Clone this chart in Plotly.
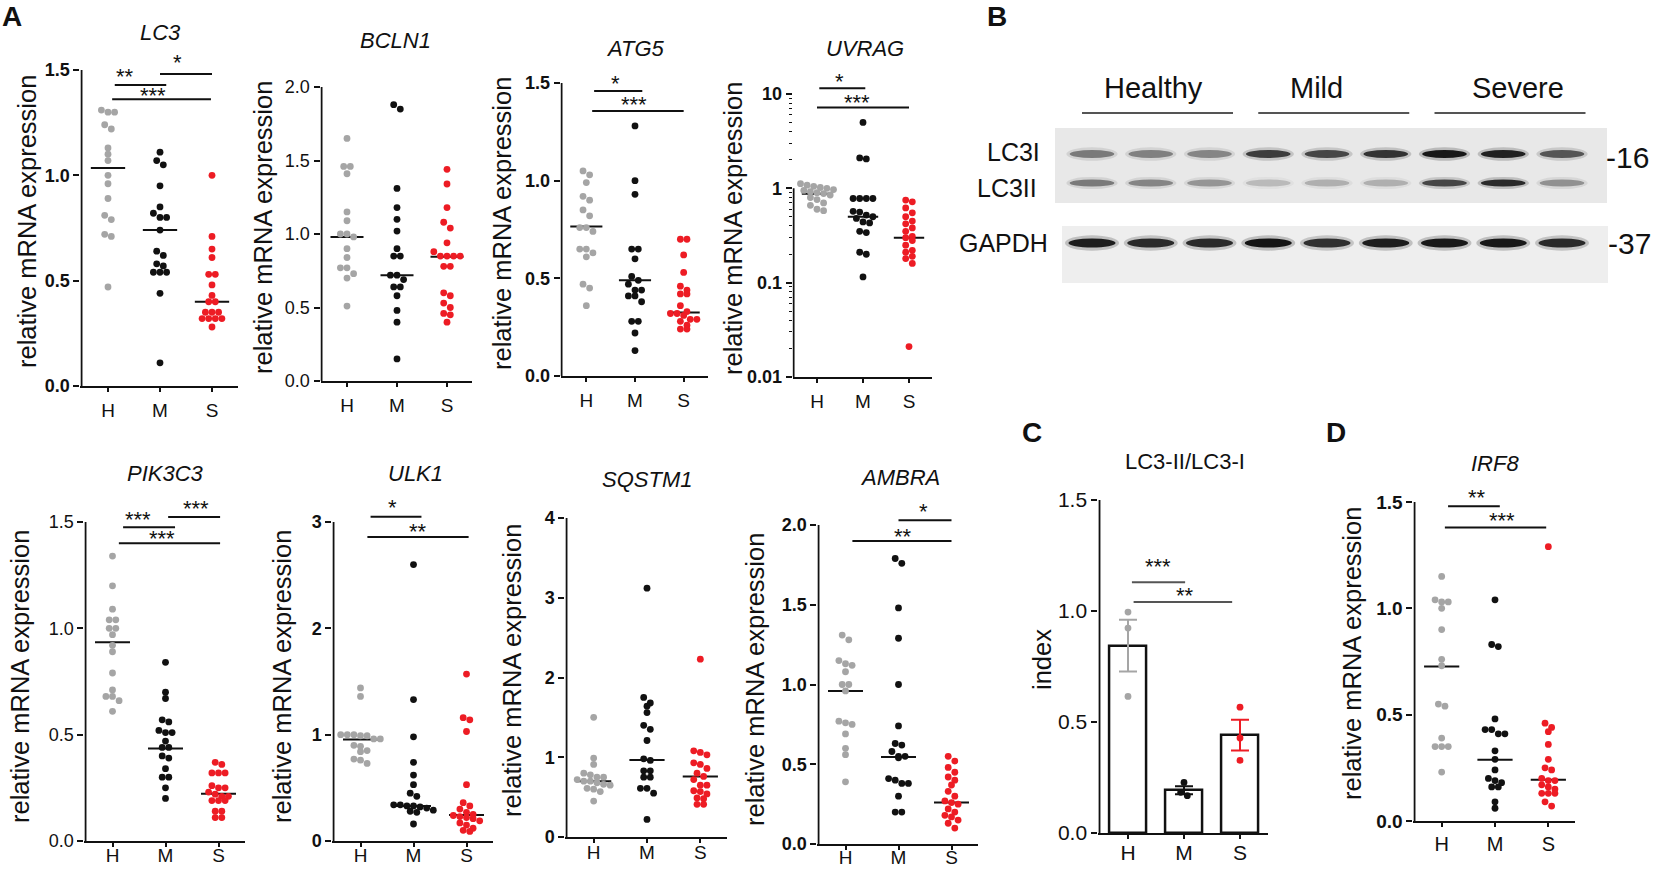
import numpy as np
import plotly.graph_objects as go

W, HT = 1663, 869
FONT = "Liberation Sans, Arial, sans-serif"
GREY, BLACK, RED = "#a5a5a5", "#111111", "#ed1c24"
GCOL = [GREY, BLACK, RED]
groups = ["H", "M", "S"]

# ---------------- data ----------------
lc3_H = [1.31, 1.30, 1.30, 1.24, 1.22, 1.13, 1.10, 1.07, 1.00, 0.96, 0.89, 0.81, 0.79, 0.72, 0.71, 0.47]
lc3_M = [1.11, 1.07, 1.05, 0.95, 0.85, 0.82, 0.80, 0.80, 0.74, 0.64, 0.62, 0.58, 0.57, 0.54, 0.54, 0.54, 0.44, 0.11]
lc3_S = [1.00, 0.71, 0.65, 0.61, 0.53, 0.53, 0.48, 0.43, 0.40, 0.40, 0.35, 0.35, 0.35, 0.32, 0.32, 0.32, 0.32, 0.28]
lc3_med = [1.035, 0.74, 0.40]

bcln_H = [1.65, 1.46, 1.46, 1.41, 1.15, 1.09, 1.00, 1.00, 0.98, 0.90, 0.84, 0.77, 0.77, 0.73, 0.70, 0.51]
bcln_M = [1.88, 1.85, 1.31, 1.18, 1.10, 1.02, 0.90, 0.85, 0.85, 0.72, 0.72, 0.69, 0.64, 0.64, 0.58, 0.48, 0.40, 0.15]
bcln_S = [1.44, 1.34, 1.18, 1.08, 1.04, 0.94, 0.88, 0.85, 0.85, 0.85, 0.85, 0.78, 0.78, 0.60, 0.58, 0.53, 0.50, 0.46, 0.45, 0.40]
bcln_med = [0.98, 0.72, 0.845]

atg_H = [1.05, 1.03, 0.99, 0.92, 0.90, 0.85, 0.82, 0.76, 0.76, 0.74, 0.65, 0.65, 0.63, 0.61, 0.47, 0.45, 0.36]
atg_M = [1.28, 1.00, 0.93, 0.65, 0.65, 0.60, 0.51, 0.49, 0.47, 0.44, 0.44, 0.41, 0.41, 0.38, 0.28, 0.28, 0.22, 0.13]
atg_S = [0.70, 0.70, 0.62, 0.53, 0.46, 0.44, 0.42, 0.42, 0.36, 0.33, 0.32, 0.32, 0.31, 0.29, 0.29, 0.28, 0.26, 0.24, 0.24]
atg_med = [0.765, 0.49, 0.325]

uvrag_H = [1.12, 1.08, 1.05, 1.02, 1.00, 0.97, 0.95, 0.92, 0.90, 0.88, 0.85, 0.80, 0.76, 0.70, 0.66, 0.60, 0.58]
uvrag_M = [5.0, 2.1, 2.05, 0.78, 0.78, 0.78, 0.78, 0.57, 0.56, 0.52, 0.50, 0.48, 0.44, 0.43, 0.35, 0.34, 0.21, 0.20, 0.115]
uvrag_S = [0.75, 0.72, 0.62, 0.55, 0.50, 0.45, 0.42, 0.38, 0.35, 0.31, 0.30, 0.28, 0.25, 0.22, 0.21, 0.19, 0.18, 0.16, 0.021]
uvrag_med = [0.875, 0.50, 0.30]

pik_H = [1.34, 1.20, 1.09, 1.04, 1.04, 1.00, 1.00, 0.97, 0.92, 0.89, 0.79, 0.71, 0.68, 0.68, 0.66, 0.61]
pik_M = [0.84, 0.70, 0.67, 0.57, 0.56, 0.52, 0.51, 0.51, 0.47, 0.44, 0.44, 0.40, 0.39, 0.34, 0.30, 0.30, 0.25, 0.20]
pik_S = [0.37, 0.36, 0.32, 0.32, 0.32, 0.26, 0.25, 0.25, 0.23, 0.22, 0.21, 0.21, 0.19, 0.19, 0.19, 0.14, 0.14, 0.11, 0.11]
pik_med = [0.935, 0.435, 0.222]

ulk_H = [1.44, 1.36, 1.00, 1.00, 1.00, 0.99, 0.99, 0.96, 0.96, 0.90, 0.89, 0.85, 0.84, 0.77, 0.76, 0.73]
ulk_M = [2.60, 1.33, 0.98, 0.74, 0.62, 0.53, 0.45, 0.42, 0.34, 0.34, 0.33, 0.33, 0.32, 0.31, 0.29, 0.28, 0.27, 0.16]
ulk_S = [1.57, 1.16, 1.14, 1.03, 0.53, 0.36, 0.33, 0.30, 0.27, 0.25, 0.24, 0.23, 0.22, 0.21, 0.19, 0.17, 0.15, 0.12, 0.10, 0.09]
ulk_med = [0.955, 0.33, 0.245]

sq_H = [1.50, 0.99, 0.91, 0.80, 0.78, 0.75, 0.75, 0.72, 0.70, 0.70, 0.68, 0.66, 0.65, 0.61, 0.60, 0.57, 0.45]
sq_M = [3.12, 1.75, 1.68, 1.64, 1.56, 1.40, 1.35, 1.21, 0.98, 0.96, 0.83, 0.83, 0.75, 0.75, 0.61, 0.61, 0.55, 0.22]
sq_S = [2.23, 1.08, 1.06, 1.03, 0.93, 0.91, 0.86, 0.80, 0.76, 0.72, 0.65, 0.65, 0.58, 0.57, 0.54, 0.49, 0.48, 0.41, 0.41]
sq_med = [0.70, 0.965, 0.76]

amb_H = [1.31, 1.28, 1.15, 1.13, 1.12, 1.08, 1.00, 1.00, 0.96, 0.77, 0.76, 0.75, 0.69, 0.60, 0.56, 0.39]
amb_M = [1.79, 1.76, 1.48, 1.29, 1.00, 0.74, 0.63, 0.62, 0.58, 0.55, 0.55, 0.54, 0.41, 0.40, 0.38, 0.38, 0.30, 0.20, 0.20]
amb_S = [0.55, 0.52, 0.48, 0.45, 0.42, 0.40, 0.37, 0.33, 0.30, 0.27, 0.26, 0.25, 0.22, 0.20, 0.18, 0.17, 0.15, 0.13, 0.10]
amb_med = [0.96, 0.545, 0.26]

irf_H = [1.15, 1.04, 1.03, 1.03, 1.00, 0.90, 0.76, 0.73, 0.55, 0.54, 0.39, 0.35, 0.35, 0.35, 0.23]
irf_M = [1.04, 0.83, 0.82, 0.48, 0.43, 0.43, 0.41, 0.41, 0.33, 0.29, 0.24, 0.20, 0.19, 0.18, 0.16, 0.16, 0.09, 0.06]
irf_S = [1.29, 0.46, 0.44, 0.42, 0.36, 0.29, 0.25, 0.24, 0.20, 0.19, 0.19, 0.17, 0.16, 0.15, 0.13, 0.13, 0.13, 0.09, 0.07]
irf_med = [0.727, 0.288, 0.194]

ratio_H = [0.995, 0.923, 0.615]
ratio_M = [0.228, 0.183, 0.168]
ratio_S = [0.567, 0.428, 0.327]

# significance brackets: (x_from, x_to, y_line, label, x_text, y_text)
lc3_sig = [(0.13, 1.12, 1.429, "**", 0.33, 1.49), (1.0, 2.0, 1.481, "*", 1.33, 1.555),
           (0.08, 1.98, 1.361, "***", 0.87, 1.40)]
atg_sig = [(0.16, 1.15, 1.459, "*", 0.60, 1.52), (0.12, 2.0, 1.357, "***", 0.97, 1.41)]
uvrag_sig = [(0.05, 1.05, 11.5, "*", 0.49, 15.0), (0.0, 2.0, 7.2, "***", 0.87, 9.0)]
pik_sig = [(0.20, 1.18, 1.475, "***", 0.48, 1.53), (1.05, 2.03, 1.523, "***", 1.58, 1.58),
           (0.12, 2.03, 1.40, "***", 0.93, 1.44)]
ulk_sig = [(0.19, 1.15, 3.05, "*", 0.60, 3.17), (0.13, 2.04, 2.86, "**", 1.09, 2.95)]
amb_sig = [(0.13, 2.0, 1.90, "**", 1.08, 1.95), (1.0, 2.0, 2.03, "*", 1.47, 2.11)]
irf_sig = [(0.12, 1.09, 1.48, "**", 0.66, 1.54), (0.06, 1.96, 1.38, "***", 1.13, 1.43)]
ratio_sig = [(0.07, 1.02, 1.13, "***", 0.54, 1.22), (0.10, 1.86, 1.04, "**", 1.02, 1.09)]

# western blot band intensities (lanes 1-9: 3 healthy, 3 mild, 3 severe)
lanes = [1, 2, 3, 4, 5, 6, 7, 8, 9]
lc3i_int = [0.45, 0.42, 0.40, 0.75, 0.70, 0.80, 0.95, 0.90, 0.62]
lc3ii_int = [0.45, 0.40, 0.33, 0.18, 0.22, 0.22, 0.70, 0.85, 0.35]
gapdh_int = [0.92, 0.85, 0.85, 0.97, 0.82, 0.92, 0.95, 0.95, 0.85]
blot_groups = ["Healthy", "Mild", "Severe"]

# ---------------- layout geometry (pixels) ----------------
dot_panels = [
    dict(title="<i>LC3</i>", data=(lc3_H, lc3_M, lc3_S), med=lc3_med, sig=lc3_sig,
         left=82, right=238, ytop_px=70, y0_px=386, ytop=1.5, ymax=1.62,
         tv=[0, 0.5, 1.0, 1.5], tt=["0.0", "0.5", "1.0", "1.5"], bold=True,
         tpos=(160, 33), ypos=(27, 222), so=2),
    dict(title="<i>BCLN1</i>", data=(bcln_H, bcln_M, bcln_S), med=bcln_med, sig=[],
         left=322, right=472, ytop_px=87, y0_px=381, ytop=2.0, ymax=2.05,
         tv=[0, 0.5, 1.0, 1.5, 2.0], tt=["0.0", "0.5", "1.0", "1.5", "2.0"], bold=False,
         tpos=(395, 40), ypos=(263, 228), so=2),
    dict(title="<i>ATG5</i>", data=(atg_H, atg_M, atg_S), med=atg_med, sig=atg_sig,
         left=562, right=708, ytop_px=83, y0_px=376, ytop=1.5, ymax=1.58,
         tv=[0, 0.5, 1.0, 1.5], tt=["0.0", "0.5", "1.0", "1.5"], bold=True,
         tpos=(635, 48), ypos=(502, 223), so=2),
    dict(title="<i>UVRAG</i>", data=(uvrag_H, uvrag_M, uvrag_S), med=uvrag_med, sig=uvrag_sig,
         left=794, right=932, ytop_px=94, y0_px=377, log=True, ymin=0.01, ytop=10, ymax=18,
         tv=[0.01, 0.1, 1, 10], tt=["0.01", "0.1", "1", "10"], bold=True,
         tpos=(865, 48), ypos=(733, 229), so=2),
    dict(title="<i>PIK3C3</i>", data=(pik_H, pik_M, pik_S), med=pik_med, sig=pik_sig,
         left=86, right=245, ytop_px=522, y0_px=841, ytop=1.5, ymax=1.64,
         tv=[0, 0.5, 1.0, 1.5], tt=["0.0", "0.5", "1.0", "1.5"], bold=False,
         tpos=(165, 473), ypos=(20, 677), so=-8),
    dict(title="<i>ULK1</i>", data=(ulk_H, ulk_M, ulk_S), med=ulk_med, sig=ulk_sig,
         left=334, right=493, ytop_px=522, y0_px=841, ytop=3.0, ymax=3.27,
         tv=[0, 1, 2, 3], tt=["0", "1", "2", "3"], bold=True,
         tpos=(415, 473), ypos=(282, 677), so=-8),
    dict(title="<i>SQSTM1</i>", data=(sq_H, sq_M, sq_S), med=sq_med, sig=[],
         left=567, right=727, ytop_px=518, y0_px=837, ytop=4.0, ymax=4.05,
         tv=[0, 1, 2, 3, 4], tt=["0", "1", "2", "3", "4"], bold=True,
         tpos=(647, 480), ypos=(512, 671), so=-7),
    dict(title="<i>AMBRA</i>", data=(amb_H, amb_M, amb_S), med=amb_med, sig=amb_sig,
         left=819, right=978, ytop_px=525, y0_px=844, ytop=2.0, ymax=2.2,
         tv=[0, 0.5, 1.0, 1.5, 2.0], tt=["0.0", "0.5", "1.0", "1.5", "2.0"], bold=True,
         tpos=(900, 477), ypos=(755, 680), so=-9),
    dict(title="<i>IRF8</i>", data=(irf_H, irf_M, irf_S), med=irf_med, sig=irf_sig,
         left=1415, right=1575, ytop_px=502, y0_px=821, ytop=1.5, ymax=1.6,
         tv=[0, 0.5, 1.0, 1.5], tt=["0.0", "0.5", "1.0", "1.5"], bold=True,
         tpos=(1495, 463), ypos=(1352, 654), tsize=19, csize=20, so=0),
]
bar_panel = dict(title="LC3-II/LC3-I", data=(ratio_H, ratio_M, ratio_S), sig=ratio_sig,
                 left=1100, right=1268, ytop_px=500, y0_px=833, ytop=1.5, ymax=1.5,
                 tv=[0, 0.5, 1.0, 1.5], tt=["0.0", "0.5", "1.0", "1.5"], bold=False,
                 tpos=(1185, 462), ypos=(1042, 660), tsize=21, csize=21, so=-4)

fig = go.Figure()
layout = dict(width=W, height=HT, margin=dict(l=0, r=0, t=0, b=0), showlegend=False,
              paper_bgcolor="white", plot_bgcolor="rgba(0,0,0,0)", template="none",
              font=dict(family=FONT, color=BLACK))
shapes, annotations = [], []


def px2paper(x, y):
    return x / W, 1 - y / HT


def swarm(pxv, step, thr):
    n = len(pxv)
    order = sorted(range(n), key=lambda i: -pxv[i])
    offs = [0.0] * n
    rows, cur = [], [order[0]]
    for i in order[1:]:
        if abs(pxv[i] - pxv[cur[0]]) < thr:
            cur.append(i)
        else:
            rows.append(cur)
            cur = [i]
    rows.append(cur)
    for r in rows:
        m = len(r)
        for k, i in enumerate(r):
            offs[i] = (k - (m - 1) / 2) * step
    return offs


def setup_axes(k, p):
    sfx = "" if k == 1 else str(k)
    ppu_x = (p["right"] - p["left"]) / 3.0
    dx = [(p["left"] - 0.03 * ppu_x) / W, p["right"] / W]
    if p.get("log"):
        lo, hi = np.log10(p["ymin"]), np.log10(p["ytop"])
        ppu_y = (p["y0_px"] - p["ytop_px"]) / (hi - lo)
        top_px = p["y0_px"] - (np.log10(p["ymax"]) - lo) * ppu_y
        yr = [lo, np.log10(p["ymax"])]
        tf = lambda v: np.log10(v) - lo
    else:
        ppu_y = (p["y0_px"] - p["ytop_px"]) / p["ytop"]
        top_px = p["y0_px"] - p["ymax"] * ppu_y
        yr = [0, p["ymax"]]
        tf = lambda v: v
    dy = [1 - p["y0_px"] / HT, 1 - top_px / HT]
    tsize = p.get("tsize", 18)
    csize = p.get("csize", 19)
    layout["xaxis" + sfx] = dict(domain=dx, range=[-0.53, 2.5], anchor="y" + sfx,
                                 showline=True, linewidth=2, linecolor=BLACK, mirror=False,
                                 ticks="outside", ticklen=4, tickwidth=2, tickcolor=BLACK,
                                 tickmode="array", tickvals=[0, 1, 2], ticktext=groups,
                                 ticklabelstandoff=p.get("so", 0),
                                 tickfont=dict(size=csize, family=FONT, color=BLACK),
                                 showgrid=False, zeroline=False, fixedrange=True)
    yax = dict(domain=dy, range=yr, anchor="x" + sfx, showline=False,
               ticks="outside", ticklen=6, tickwidth=2, tickcolor=BLACK,
               tickmode="array", tickvals=p["tv"], ticktext=p["tt"],
               tickfont=dict(size=tsize, family=FONT, color=BLACK,
                             weight="bold" if p["bold"] else "normal"),
               showgrid=False, zeroline=False, fixedrange=True)
    if p.get("log"):
        yax["type"] = "log"
        yax["minor"] = dict(ticks="outside", ticklen=3, tickwidth=1.2, tickcolor=BLACK,
                            dtick="D1", showgrid=False)
    layout["yaxis" + sfx] = yax
    # y axis line (stops at the top tick, as in the original)
    ylo = np.log10(p["ymin"]) if p.get("log") else 0
    yhi = np.log10(p["ytop"]) if p.get("log") else p["ytop"]
    shapes.append(dict(type="line", xref="x" + sfx, yref="y" + sfx, x0=-0.51, x1=-0.51,
                       y0=ylo, y1=yhi, line=dict(color=BLACK, width=2)))
    tx, ty = px2paper(*p["tpos"])
    annotations.append(dict(text=p["title"], x=tx, y=ty, xref="paper", yref="paper",
                            showarrow=False, font=dict(size=22, family=FONT, color=BLACK),
                            xanchor="center", yanchor="middle"))
    lx, ly = px2paper(*p["ypos"])
    annotations.append(dict(text="index" if p is bar_panel else "relative mRNA expression",
                            x=lx, y=ly, xref="paper", yref="paper", textangle=-90,
                            showarrow=False, font=dict(size=25.5, family=FONT, color=BLACK),
                            xanchor="center", yanchor="middle"))
    return sfx, ppu_x, ppu_y, tf


def add_sig(sfx, p, color=BLACK):
    for (a, b, yl, lab, xt, yt) in p["sig"]:
        fig.add_trace(go.Scatter(x=[a, b], y=[yl, yl], mode="lines", xaxis="x" + sfx,
                                 yaxis="y" + sfx, line=dict(color=color, width=2),
                                 hoverinfo="skip"))
        annotations.append(dict(text=lab, x=xt, y=np.log10(yt) if p.get("log") else yt,
                                xref="x" + sfx, yref="y" + sfx, showarrow=False,
                                font=dict(size=22, family=FONT, color=BLACK),
                                xanchor="center", yanchor="middle", yshift=-4))


def add_points(sfx, ppu_x, ppu_y, tf, data):
    for gi, vals in enumerate(data):
        pxv = [tf(v) * ppu_y for v in vals]
        offs = swarm(pxv, 6.6, 6.0)
        xs = [gi + o / ppu_x for o in offs]
        fig.add_trace(go.Scatter(x=xs, y=vals, mode="markers", xaxis="x" + sfx, yaxis="y" + sfx,
                                 marker=dict(size=6.8, color=GCOL[gi], line=dict(width=0)),
                                 cliponaxis=False, hoverinfo="skip"))


for k, p in enumerate(dot_panels, start=1):
    sfx, ppu_x, ppu_y, tf = setup_axes(k, p)
    for gi, m in enumerate(p["med"]):
        fig.add_trace(go.Scatter(x=[gi - 0.33, gi + 0.33], y=[m, m], mode="lines",
                                 xaxis="x" + sfx, yaxis="y" + sfx,
                                 line=dict(color=BLACK, width=2), hoverinfo="skip"))
    add_points(sfx, ppu_x, ppu_y, tf, p["data"])
    add_sig(sfx, p)

# ---------- panel C: bars with SEM ----------
kc = len(dot_panels) + 1
sfx, ppu_x, ppu_y, tf = setup_axes(kc, bar_panel)
for gi, vals in enumerate(bar_panel["data"]):
    arr = np.array(vals)
    mean = float(arr.mean())
    sem = float(arr.std(ddof=1) / np.sqrt(len(arr)))
    fig.add_trace(go.Bar(x=[gi], y=[mean], width=0.66, xaxis="x" + sfx, yaxis="y" + sfx,
                         marker=dict(color="white", line=dict(color=BLACK, width=2.5)),
                         error_y=dict(type="data", array=[sem], visible=True, color=GCOL[gi],
                                      thickness=2, width=9),
                         hoverinfo="skip"))
add_points(sfx, ppu_x, ppu_y, tf, bar_panel["data"])
add_sig(sfx, bar_panel, color="#555555")

# ---------- panel B: western blot ----------
kb = kc + 1
sb = str(kb)
lane_px0, lane_px9 = 1092, 1562
lppu = (lane_px9 - lane_px0) / 8.0
bx0_px, bx1_px = 1040, 1620
layout["xaxis" + sb] = dict(domain=[bx0_px / W, bx1_px / W],
                            range=[1 - (lane_px0 - bx0_px) / lppu, 9 + (bx1_px - lane_px9) / lppu],
                            visible=False, fixedrange=True)
by_top, by_bot = 60, 290
layout["yaxis" + sb] = dict(domain=[1 - by_bot / HT, 1 - by_top / HT], range=[by_bot, by_top],
                            visible=False, fixedrange=True, anchor="x" + sb)
xb, yb = "x" + sb, "y" + sb


def lane_x(px):
    return 1 + (px - lane_px0) / lppu


# membranes
shapes.append(dict(type="rect", xref=xb, yref=yb, x0=lane_x(1055), x1=lane_x(1607), y0=128, y1=203,
                   fillcolor="#e8e8e8", line=dict(width=0), layer="below"))
shapes.append(dict(type="rect", xref=xb, yref=yb, x0=lane_x(1062), x1=lane_x(1608), y0=226, y1=283,
                   fillcolor="#eeeeee", line=dict(width=0), layer="below"))
band_rows = [(lc3i_int, 154, 4.0, 0.38), (lc3ii_int, 183, 3.6, 0.38), (gapdh_int, 243, 4.5, 0.40)]
for ints, yc, hh, hw in band_rows:
    for ln, a in zip(lanes, ints):
        shapes.append(dict(type="circle", xref=xb, yref=yb, x0=ln - hw * 1.15, x1=ln + hw * 1.15,
                           y0=yc - hh * 1.7, y1=yc + hh * 1.7,
                           fillcolor=f"rgba(40,40,40,{a * 0.25:.3f})", line=dict(width=0)))
        shapes.append(dict(type="circle", xref=xb, yref=yb, x0=ln - hw, x1=ln + hw,
                           y0=yc - hh, y1=yc + hh,
                           fillcolor=f"rgba(15,15,15,{a:.3f})", line=dict(width=0)))
# group lines and labels
glab_px = [1153, 1316, 1518]
for gi, name in enumerate(blot_groups):
    l0, l1 = lanes[3 * gi], lanes[3 * gi + 2]
    fig.add_trace(go.Scatter(x=[l0 - 0.17, l1 + 0.4], y=[113, 113], mode="lines", xaxis=xb, yaxis=yb,
                             line=dict(color="#555555", width=2), hoverinfo="skip"))
    annotations.append(dict(text=name, x=lane_x(glab_px[gi]), y=88, xref=xb, yref=yb,
                            showarrow=False, font=dict(size=29, family=FONT, color=BLACK),
                            xanchor="center", yanchor="middle"))
for txt, xp, yp, anc, sz in [("LC3I", 1042, 152, "right", 25), ("LC3II", 1039, 188, "right", 25),
                             ("GAPDH", 1050, 243, "right", 25), ("-16", 1604, 157, "left", 30),
                             ("-37", 1606, 243, "left", 30)]:
    ax_, ay_ = px2paper(xp, yp)
    annotations.append(dict(text=txt, x=ax_, y=ay_, xref="paper", yref="paper", showarrow=False,
                            font=dict(size=sz, family=FONT, color=BLACK), xanchor=anc,
                            yanchor="middle"))

# panel letters
for lab, xp, yp in [("A", 12, 16), ("B", 997, 16), ("C", 1032, 432), ("D", 1336, 432)]:
    ax_, ay_ = px2paper(xp, yp)
    annotations.append(dict(text=f"<b>{lab}</b>", x=ax_, y=ay_, xref="paper", yref="paper",
                            showarrow=False, font=dict(size=28, family=FONT, color=BLACK),
                            xanchor="center", yanchor="middle"))

layout["shapes"] = shapes
layout["annotations"] = annotations
layout["bargap"] = 0
fig.update_layout(**layout)
fig.write_html("out.html", config={"displayModeBar": False},
               post_script="document.body.style.margin='0px';document.body.style.overflow='hidden';")
